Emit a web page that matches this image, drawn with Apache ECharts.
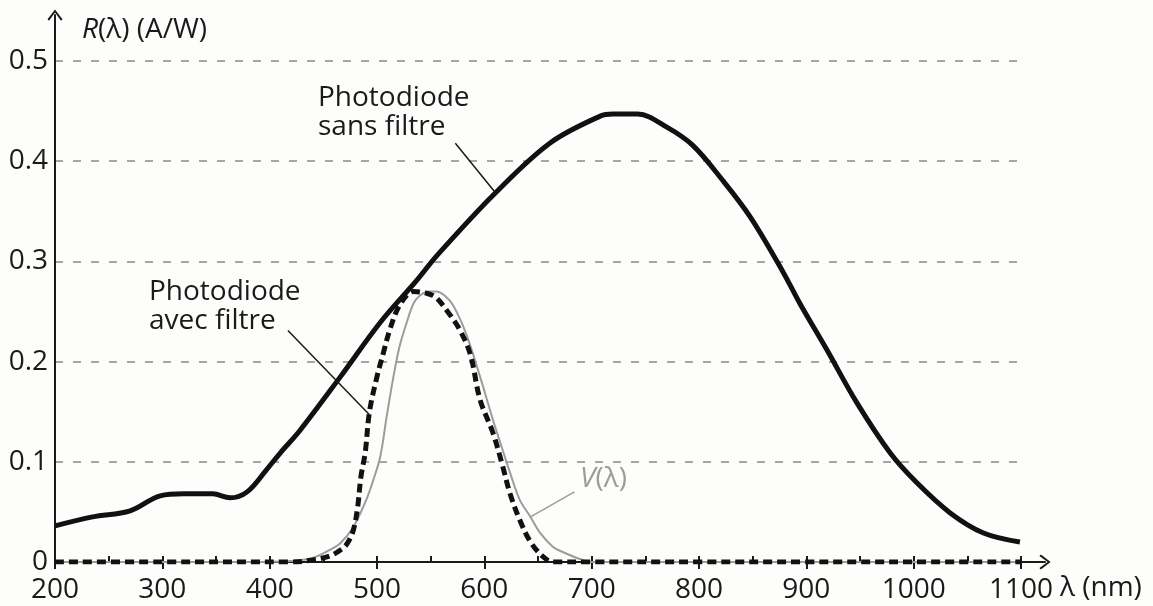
<!DOCTYPE html>
<html>
<head>
<meta charset="utf-8">
<script src="https://cdn.jsdelivr.net/npm/echarts@6/dist/echarts.min.js"></script>
<style>
  html, body { margin: 0; padding: 0; background: #fdfdfb; }
  #chart { width: 1153px; height: 606px; }
</style>
</head>
<body>
<div id="chart"></div>
<script>
// Photodiode sans filtre
const lambdaSans = [200, 235, 270, 298, 320, 347, 363, 379, 397, 410, 428, 466, 503, 537, 556, 610, 661, 708, 720, 743, 770, 794, 822, 848, 878, 894, 919, 947, 978, 1003, 1034, 1065, 1099];
const rSans = [0.036, 0.045, 0.051, 0.066, 0.068, 0.068, 0.064, 0.070, 0.092, 0.109, 0.131, 0.185, 0.239, 0.281, 0.306, 0.368, 0.418, 0.445, 0.447, 0.447, 0.434, 0.416, 0.381, 0.344, 0.290, 0.258, 0.212, 0.159, 0.109, 0.079, 0.049, 0.029, 0.020];

// Photodiode avec filtre
const lambdaFiltre = [200, 300, 420, 440, 456, 466, 472, 478, 482, 485, 489, 493, 500, 506, 512, 521, 534, 547, 555, 565, 577, 587, 596, 608, 617, 624, 633, 643, 655, 664, 700, 800, 900, 1000, 1100];
const rFiltre = [0, 0, 0, 0.002, 0.006, 0.012, 0.018, 0.032, 0.055, 0.085, 0.109, 0.150, 0.185, 0.209, 0.232, 0.256, 0.270, 0.268, 0.264, 0.251, 0.232, 0.207, 0.162, 0.129, 0.096, 0.068, 0.042, 0.020, 0.005, 0, 0, 0, 0, 0, 0];

// V(lambda)
const lambdaV = [200, 380, 420, 440, 456, 466, 478, 490, 496, 503, 509, 515, 521, 528, 534, 540, 548, 555, 563, 571, 583, 596, 608, 617, 624, 633, 643, 652, 664, 673, 689, 700, 1100];
const rV = [0, 0, 0.001, 0.004, 0.012, 0.019, 0.035, 0.062, 0.080, 0.105, 0.145, 0.183, 0.215, 0.240, 0.258, 0.266, 0.270, 0.270, 0.266, 0.256, 0.228, 0.185, 0.142, 0.112, 0.089, 0.062, 0.045, 0.029, 0.015, 0.010, 0.003, 0, 0];

// leader lines of the annotations
const leaderSans = [[573, 0.418], [610, 0.369]];
const leaderFiltre = [[417, 0.231], [493, 0.147]];
const leaderV = [[684, 0.070], [643, 0.045]];

const xTicks = [200, 300, 400, 500, 600, 700, 800, 900, 1000, 1100];

const zip = (xs, ys) => xs.map((x, i) => [x, ys[i]]);

const FONT = '"Open Sans", sans-serif';
const SIZE = 28;
const INK = '#1a1a1a';
const GREY = '#9c9c9c';
const arrowPath = 'path://M10,0 L20,13 L18,15 L10,4 L2,15 L0,13 Z';

const chart = echarts.init(document.getElementById('chart'));

const option = {
  backgroundColor: '#fdfdfb',
  animation: false,
  grid: [
    { left: 55, right: 132, top: 61, bottom: 44 },
    { left: 55, right: 108, top: 15, bottom: 44 }
  ],
  xAxis: [
    {
      type: 'value', gridIndex: 0, min: 200, max: 1100, interval: 100,
      axisLine: { show: false },
      axisTick: { show: true, length: 7, lineStyle: { color: INK, width: 2 } },
      axisLabel: {
        margin: 14, fontSize: SIZE, fontFamily: FONT, color: INK,
        customValues: xTicks,
        formatter: v => String(v)
      },
      splitLine: { show: false }
    },
    {
      type: 'value', gridIndex: 0, position: 'bottom', min: 200, max: 1100, interval: 50,
      axisLine: { show: false },
      axisTick: { show: true, inside: true, length: 6, lineStyle: { color: INK, width: 2 } },
      axisLabel: { show: false },
      splitLine: { show: false }
    },
    {
      type: 'value', gridIndex: 1, min: 0, max: 1,
      axisLine: {
        show: true, symbol: ['none', arrowPath], symbolSize: [15, 14],
        lineStyle: { color: INK, width: 2 }
      },
      axisTick: { show: false }, axisLabel: { show: false }, splitLine: { show: false }
    }
  ],
  yAxis: [
    {
      type: 'value', gridIndex: 0, min: 0, max: 0.5, interval: 0.1,
      axisLine: { show: false },
      axisTick: { show: false },
      axisLabel: {
        margin: 7, fontSize: SIZE, fontFamily: FONT, color: INK,
        formatter: v => (v === 0 ? '0' : v.toFixed(1))
      },
      splitLine: { show: true, lineStyle: { color: '#a6a6a6', width: 2, type: [8, 10] } }
    },
    {
      type: 'value', gridIndex: 1, min: 0, max: 1,
      axisLine: {
        show: true, symbol: ['none', arrowPath], symbolSize: [15, 14],
        lineStyle: { color: INK, width: 2 }
      },
      axisTick: { show: false }, axisLabel: { show: false }, splitLine: { show: false }
    }
  ],
  series: [
    {
      name: 'V', type: 'line', xAxisIndex: 0, yAxisIndex: 0,
      data: zip(lambdaV, rV), smooth: 0.35, symbol: 'none',
      lineStyle: { color: GREY, width: 2 }
    },
    {
      name: 'avec filtre', type: 'line', xAxisIndex: 0, yAxisIndex: 0,
      data: zip(lambdaFiltre, rFiltre), smooth: 0.35, symbol: 'none',
      lineStyle: { color: '#111', width: 5, type: [9, 5] }
    },
    {
      name: 'sans filtre', type: 'line', xAxisIndex: 0, yAxisIndex: 0,
      data: zip(lambdaSans, rSans), smooth: 0.35, symbol: 'none',
      lineStyle: { color: '#111', width: 5 }
    },
    {
      type: 'line', data: leaderSans, symbol: 'none', silent: true,
      lineStyle: { color: INK, width: 1.5 }
    },
    {
      type: 'line', data: leaderFiltre, symbol: 'none', silent: true,
      lineStyle: { color: INK, width: 1.5 }
    },
    {
      type: 'line', data: leaderV, symbol: 'none', silent: true,
      lineStyle: { color: GREY, width: 1.5 }
    }
  ],
  graphic: [
    {
      type: 'text', left: 82, top: 16,
      style: {
        text: '{i|R}(λ) (A/W)', fontSize: SIZE, fontFamily: FONT, fill: INK,
        rich: { i: { fontStyle: 'italic', fontSize: SIZE, fontFamily: FONT, fill: INK } }
      }
    },
    {
      type: 'text', left: 1060, top: 574,
      style: { text: 'λ (nm)', fontSize: SIZE, fontFamily: FONT, fill: INK }
    },
    {
      type: 'text', left: 318, top: 84,
      style: { text: 'Photodiode\nsans filtre', fontSize: SIZE, lineHeight: 29, fontFamily: FONT, fill: INK }
    },
    {
      type: 'text', left: 149, top: 278,
      style: { text: 'Photodiode\navec filtre', fontSize: SIZE, lineHeight: 29, fontFamily: FONT, fill: INK }
    },
    {
      type: 'text', left: 580, top: 465,
      style: {
        text: '{i|V}(λ)', fontSize: SIZE, fontFamily: FONT, fill: GREY,
        rich: { i: { fontStyle: 'italic', fontSize: SIZE, fontFamily: FONT, fill: GREY } }
      }
    }
  ]
};

chart.setOption(option);
</script>
</body>
</html>
